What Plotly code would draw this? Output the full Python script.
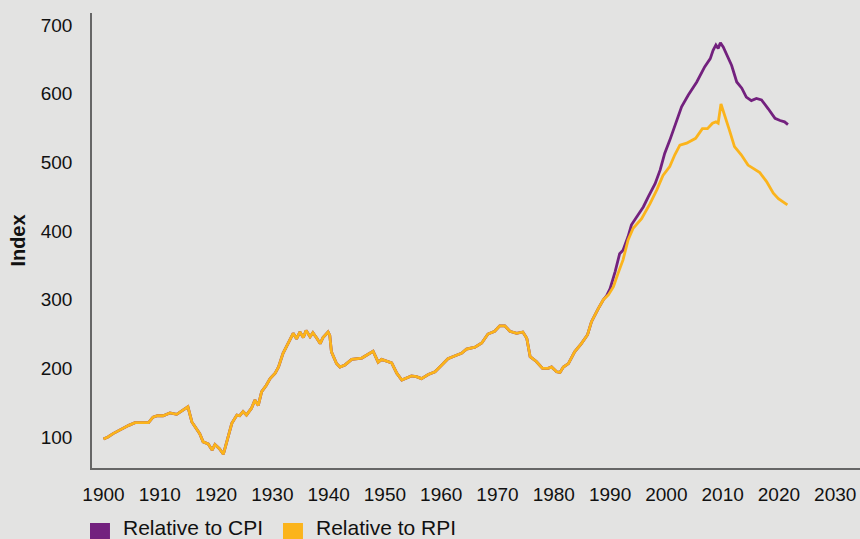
"""House price index relative to CPI and RPI, 1900 onwards."""

import plotly.graph_objects as go

# shared history (both deflators track each other until the late 1980s)
shared_years = [
    1900.0, 1900.8, 1901.7, 1902.6, 1903.5, 1904.5, 1905.6, 1906.8, 1908.0, 1908.8,
    1909.6, 1910.6, 1911.8, 1913.0, 1914.0, 1915.0, 1915.7, 1916.5, 1917.1, 1917.7,
    1918.6, 1919.3, 1919.8, 1920.6, 1921.3, 1921.9, 1922.8, 1923.7, 1924.2, 1924.8,
    1925.4, 1926.3, 1926.9, 1927.5, 1928.1, 1928.9, 1929.6, 1930.5, 1931.1, 1931.9,
    1932.8, 1933.7, 1934.3, 1934.9, 1935.5, 1936.0, 1936.7, 1937.2, 1937.9, 1938.5,
    1939.0, 1939.9, 1940.2, 1940.5, 1941.4, 1942.0, 1942.9, 1944.1, 1945.9, 1947.0,
    1947.9, 1948.8, 1949.4, 1951.2, 1952.1, 1953.0, 1953.9, 1954.7, 1955.6, 1956.5,
    1957.7, 1958.9, 1960.1, 1961.2, 1962.7, 1963.6, 1964.5, 1966.0, 1967.2, 1968.3,
    1969.5, 1970.4, 1971.3, 1972.2, 1973.4, 1974.5, 1975.2, 1975.8, 1976.9, 1978.0,
    1979.0, 1979.6, 1980.5, 1981.1, 1981.7, 1982.6, 1983.7, 1984.9, 1986.0, 1986.7,
    1987.9, 1988.8,
]
shared_index = [
    97, 100, 105, 109, 113, 117, 121, 121, 121, 129,
    131, 131, 135, 133, 138, 144, 122, 113, 105, 93,
    90, 81, 89, 83, 75, 93, 120, 132, 131, 137,
    132, 142, 154, 146, 166, 175, 185, 193, 202, 222,
    236, 251, 243, 253, 245, 255, 246, 252, 244, 236,
    245, 253, 248, 224, 207, 202, 205, 213, 215, 220,
    225, 209, 213, 208, 193, 183, 186, 189, 188, 185,
    191, 195, 205, 214, 219, 222, 228, 231, 237, 250,
    254, 262, 262, 254, 251, 253, 244, 217, 210, 200,
    200, 202, 195, 194, 202, 207, 224, 236, 249, 268,
    287, 300,
]

cpi_years = [
    1989.4, 1990.0, 1990.9, 1991.7, 1992.3, 1993.2, 1993.8, 1995.0, 1995.9, 1996.8,
    1998.0, 1998.9, 1999.7, 2000.6, 2001.5, 2002.1, 2002.7, 2003.9, 2005.4, 2006.8,
    2007.8, 2008.3, 2008.8, 2009.2, 2009.6, 2010.1, 2011.0, 2011.6, 2012.5, 2013.4,
    2014.2, 2015.1, 2016.0, 2016.9, 2018.1, 2019.3, 2020.2, 2021.0, 2021.6,
]
cpi_index = [
    306, 316, 341, 367, 372, 392, 409, 423, 435, 450,
    469, 489, 513, 532, 554, 569, 581, 598, 617, 639,
    651, 663, 671, 666, 674, 668, 651, 641, 617, 608,
    595, 590, 593, 591, 578, 564, 561, 559, 555,
]

rpi_years = [
    1989.7, 1990.6, 1991.4, 1992.3, 1993.2, 1994.1, 1995.6, 1997.1, 1998.3, 1999.4,
    2000.6, 2001.5, 2002.4, 2003.6, 2005.2, 2006.4, 2007.3, 2008.2, 2008.8, 2009.2,
    2009.7, 2010.3, 2011.2, 2012.1, 2013.3, 2014.5, 2015.7, 2016.6, 2017.8, 2019.0,
    2019.9, 2020.7, 2021.5,
]
rpi_index = [
    307, 319, 338, 358, 387, 404, 418, 440, 460, 481,
    494, 511, 525, 528, 535, 549, 549, 557, 559, 557,
    585, 571, 547, 523, 511, 496, 489, 485, 472, 455,
    447, 442, 438,
]

x_ticks = list(range(1900, 2031, 10))
y_ticks = [100, 200, 300, 400, 500, 600, 700]

series_names = ["Relative to CPI", "Relative to RPI"]
PURPLE = "#73217e"
ORANGE = "#fbb41c"
BG = "#e3e3e2"
FONT = "Liberation Sans, Arial, sans-serif"

fig = go.Figure()
fig.add_trace(
    go.Scatter(
        x=shared_years + cpi_years,
        y=shared_index + cpi_index,
        mode="lines",
        line=dict(color=PURPLE, width=2.8),
        name=series_names[0],
        showlegend=False,
    )
)
fig.add_trace(
    go.Scatter(
        x=shared_years + rpi_years,
        y=shared_index + rpi_index,
        mode="lines",
        line=dict(color=ORANGE, width=2.8),
        name=series_names[1],
        showlegend=False,
    )
)

# legend drawn by hand: square swatches below the axis
swatches = [(series_names[0], PURPLE, -0.0026, 0.0378), (series_names[1], ORANGE, 0.2487, 0.2895)]
for label, colour, x0, tx in swatches:
    fig.add_shape(
        type="rect", xref="paper", yref="paper",
        x0=x0, x1=x0 + 0.026, y0=-0.1648, y1=-0.1209,
        fillcolor=colour, line=dict(width=0),
    )
    fig.add_annotation(
        text=label, xref="paper", yref="paper", x=tx, y=-0.131,
        xanchor="left", yanchor="middle", showarrow=False,
        font=dict(family=FONT, size=21, color="#111111"),
    )

fig.update_layout(
    width=860,
    height=539,
    margin=dict(l=92, r=0, t=13, b=71),
    paper_bgcolor=BG,
    plot_bgcolor=BG,
    font=dict(family=FONT, size=19, color="#111111"),
    showlegend=False,
    xaxis=dict(
        range=[1897.96, 2034.4],
        tickvals=x_ticks,
        showgrid=False,
        zeroline=False,
        showline=True,
        linecolor="#666666",
        linewidth=1.5,
        ticks="",
        ticklabelstandoff=8,
    ),
    yaxis=dict(
        range=[54.9, 717.5],
        tickvals=y_ticks,
        showgrid=False,
        zeroline=False,
        showline=True,
        linecolor="#666666",
        linewidth=1.5,
        ticks="",
        ticklabelstandoff=14,
        title=dict(text="<b>Index</b>", font=dict(size=20), standoff=10),
    ),
)

# drop the page's default body margin so the figure fills the window
fig.write_html(
    "out.html",
    config={"displayModeBar": False},
    post_script="document.body.style.margin='0';",
)
